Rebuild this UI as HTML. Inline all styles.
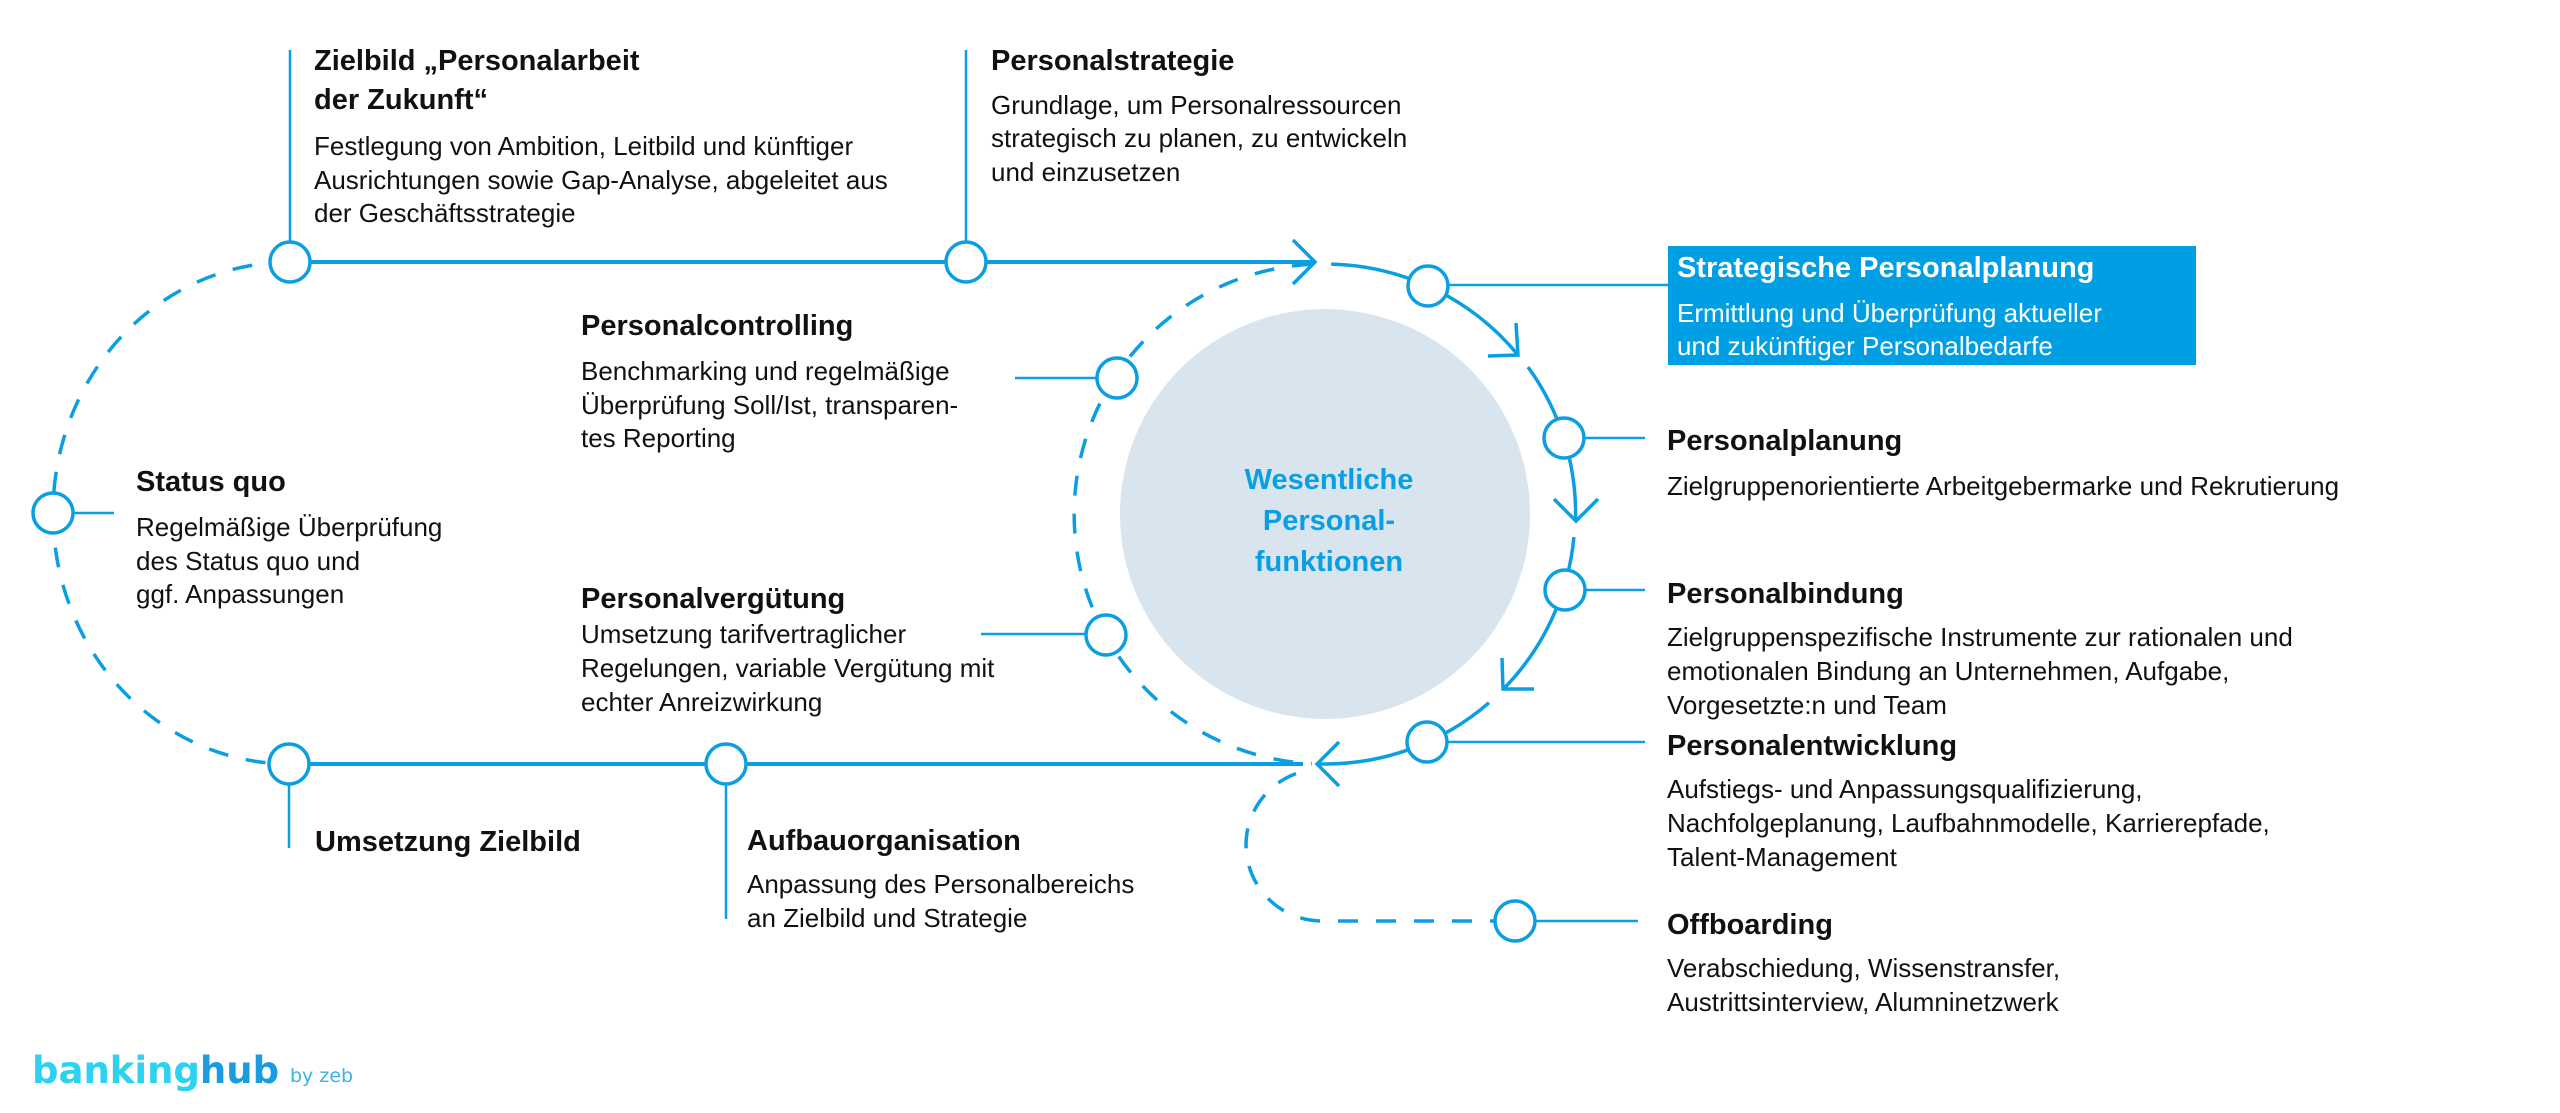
<!DOCTYPE html>
<html>
<head>
<meta charset="utf-8">
<style>
html,body{margin:0;padding:0;background:#fff;width:2560px;height:1113px;overflow:hidden;}
svg{display:block;}
text{font-family:"Liberation Sans",Arial,sans-serif;}
.t{font-size:29px;font-weight:bold;fill:#111;}
.b{font-size:26px;fill:#111;}
.w{fill:#fff;}
.c{font-size:29px;font-weight:bold;fill:#0a9fe2;}
</style>
</head>
<body>
<svg width="2560" height="1113" viewBox="0 0 2560 1113" xmlns="http://www.w3.org/2000/svg">
  <!-- central grey circle -->
  <circle cx="1325" cy="514" r="205" fill="#d9e5ee"/>

  <g fill="none" stroke="#0b9fe2">
    <!-- main horizontal lines -->
    <line x1="290" y1="262" x2="1315" y2="262" stroke-width="4"/>
    <line x1="289" y1="764" x2="1303" y2="764" stroke-width="4"/>
    <!-- arrowheads -->
    <polyline points="1293,240 1315,262 1293,284" stroke-width="3.5"/>
    <polyline points="1339,742 1317,764 1339,786" stroke-width="3.5"/>
    <polyline points="1516,323 1518,355 1488,356" stroke-width="3.5"/>
    <polyline points="1554,499 1576,521 1598,499" stroke-width="3.5"/>
    <polyline points="1534,689 1503,689 1502,658" stroke-width="3.5"/>

    <!-- solid ring segments -->
    <path d="M1331.1,264.1 A250,250 0 0 1 1518,355" stroke-width="3.5"/>
    <path d="M1528,367 A250,250 0 0 1 1575.5,521" stroke-width="3.5"/>
    <path d="M1573.9,537.1 A250,250 0 0 1 1503.3,689.2" stroke-width="3.5"/>
    <path d="M1489,702.7 A250,250 0 0 1 1317.1,763.9" stroke-width="3.5"/>

    <!-- dashed ring -->
    <path d="M1311.9,264.3 A250,250 0 0 0 1311.9,763.7" stroke-width="3.5" stroke-dasharray="20 18"/>
    <!-- left dashed ellipse -->
    <path d="M290,262 A237,251 0 0 0 290,764" stroke-width="3.5" stroke-dasharray="20 18"/>
    <!-- offboarding dashed S -->
    <path d="M1296,773.6 A76,76 0 0 0 1322,921 L1494,921" stroke-width="3.5" stroke-dasharray="20 18"/>

    <!-- thin connectors -->
    <g stroke-width="2.5">
      <line x1="290" y1="50" x2="290" y2="242"/>
      <line x1="966" y1="50" x2="966" y2="242"/>
      <line x1="289" y1="784" x2="289" y2="848"/>
      <line x1="726" y1="784" x2="726" y2="919"/>
      <line x1="73" y1="513" x2="114" y2="513"/>
      <line x1="1015" y1="378" x2="1097" y2="378"/>
      <line x1="981" y1="634" x2="1086" y2="634"/>
      <line x1="1448" y1="285" x2="1668" y2="285"/>
      <line x1="1585" y1="438" x2="1645" y2="438"/>
      <line x1="1586" y1="590" x2="1645" y2="590"/>
      <line x1="1447" y1="742" x2="1645" y2="742"/>
      <line x1="1535" y1="921" x2="1638" y2="921"/>
    </g>

    <!-- nodes -->
    <g fill="#fff" stroke-width="3.5">
      <circle cx="290" cy="262" r="20"/>
      <circle cx="966" cy="262" r="20"/>
      <circle cx="53" cy="513" r="20"/>
      <circle cx="289" cy="764" r="20"/>
      <circle cx="726" cy="764" r="20"/>
      <circle cx="1117" cy="378" r="20"/>
      <circle cx="1106" cy="635" r="20"/>
      <circle cx="1428" cy="286" r="20"/>
      <circle cx="1564" cy="438" r="20"/>
      <circle cx="1565" cy="590" r="20"/>
      <circle cx="1427" cy="742" r="20"/>
      <circle cx="1515" cy="921" r="20"/>
    </g>
  </g>

  <!-- highlighted box -->
  <rect x="1668" y="246" width="528" height="119" fill="#009fe3"/>

  <!-- center label -->
  <text class="c" x="1329" y="489" text-anchor="middle">Wesentliche</text>
  <text class="c" x="1329" y="530" text-anchor="middle">Personal-</text>
  <text class="c" x="1329" y="571" text-anchor="middle">funktionen</text>

  <!-- Zielbild -->
  <text class="t" x="314" y="70">Zielbild „Personalarbeit</text>
  <text class="t" x="314" y="109">der Zukunft“</text>
  <text class="b" x="314" y="155">Festlegung von Ambition, Leitbild und künftiger</text>
  <text class="b" x="314" y="189">Ausrichtungen sowie Gap-Analyse, abgeleitet aus</text>
  <text class="b" x="314" y="222">der Geschäftsstrategie</text>

  <!-- Personalstrategie -->
  <text class="t" x="991" y="70">Personalstrategie</text>
  <text class="b" x="991" y="114">Grundlage, um Personalressourcen</text>
  <text class="b" x="991" y="147">strategisch zu planen, zu entwickeln</text>
  <text class="b" x="991" y="181">und einzusetzen</text>

  <!-- Strategische Personalplanung -->
  <text class="t w" x="1677" y="277">Strategische Personalplanung</text>
  <text class="b w" x="1677" y="322">Ermittlung und Überprüfung aktueller</text>
  <text class="b w" x="1677" y="355">und zukünftiger Personalbedarfe</text>

  <!-- Personalcontrolling -->
  <text class="t" x="581" y="335">Personalcontrolling</text>
  <text class="b" x="581" y="380">Benchmarking und regelmäßige</text>
  <text class="b" x="581" y="414">Überprüfung Soll/Ist, transparen-</text>
  <text class="b" x="581" y="447">tes Reporting</text>

  <!-- Status quo -->
  <text class="t" x="136" y="491">Status quo</text>
  <text class="b" x="136" y="536">Regelmäßige Überprüfung</text>
  <text class="b" x="136" y="570">des Status quo und</text>
  <text class="b" x="136" y="603">ggf. Anpassungen</text>

  <!-- Personalvergütung -->
  <text class="t" x="581" y="608">Personalvergütung</text>
  <text class="b" x="581" y="643">Umsetzung tarifvertraglicher</text>
  <text class="b" x="581" y="677">Regelungen, variable Vergütung mit</text>
  <text class="b" x="581" y="711">echter Anreizwirkung</text>

  <!-- Umsetzung Zielbild -->
  <text class="t" x="315" y="851">Umsetzung Zielbild</text>

  <!-- Aufbauorganisation -->
  <text class="t" x="747" y="850">Aufbauorganisation</text>
  <text class="b" x="747" y="893">Anpassung des Personalbereichs</text>
  <text class="b" x="747" y="927">an Zielbild und Strategie</text>

  <!-- Personalplanung -->
  <text class="t" x="1667" y="450">Personalplanung</text>
  <text class="b" x="1667" y="495">Zielgruppenorientierte Arbeitgebermarke und Rekrutierung</text>

  <!-- Personalbindung -->
  <text class="t" x="1667" y="603">Personalbindung</text>
  <text class="b" x="1667" y="646">Zielgruppenspezifische Instrumente zur rationalen und</text>
  <text class="b" x="1667" y="680">emotionalen Bindung an Unternehmen, Aufgabe,</text>
  <text class="b" x="1667" y="714">Vorgesetzte:n und Team</text>

  <!-- Personalentwicklung -->
  <text class="t" x="1667" y="755">Personalentwicklung</text>
  <text class="b" x="1667" y="798">Aufstiegs- und Anpassungsqualifizierung,</text>
  <text class="b" x="1667" y="832">Nachfolgeplanung, Laufbahnmodelle, Karrierepfade,</text>
  <text class="b" x="1667" y="866">Talent-Management</text>

  <!-- Offboarding -->
  <text class="t" x="1667" y="934">Offboarding</text>
  <text class="b" x="1667" y="977">Verabschiedung, Wissenstransfer,</text>
  <text class="b" x="1667" y="1011">Austrittsinterview, Alumninetzwerk</text>

  <!-- logo -->
  <text x="32" y="1083" style="font-family:'DejaVu Sans','Liberation Sans',sans-serif;font-weight:bold;font-size:37px;"><tspan fill="#2dd2f0">banking</tspan><tspan fill="#1a9de0">hub</tspan></text>
  <text x="290" y="1082" style="font-family:'DejaVu Sans','Liberation Sans',sans-serif;font-size:19px;" fill="#3ab2ea">by zeb</text>
</svg>
</body>
</html>
